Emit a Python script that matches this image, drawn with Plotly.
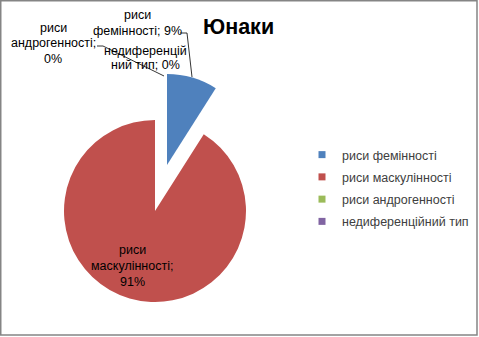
import plotly.graph_objects as go

W, H = 479, 337

# ---- data ----
categories = ["риси фемінності", "риси маскулінності", "риси андрогенності", "недиференційний тип"]
values = [9, 91, 0, 0]
label_lines = [["риси", "фемінності; 9%"],
               ["риси", "маскулінності;", "91%"],
               ["риси", "андрогенності;", "0%"],
               ["недиференцій", "ний тип; 0%"]]
title_text = "Юнаки"
colors = ["#4F81BD", "#C0504D", "#9BBB59", "#8064A2"]

FONT = "Liberation Sans"
TXT = "#000000"

def px(x):
    return x / W

def py(y):
    return 1 - y / H

def dom(cx, cy, r):
    return dict(x=[px(cx - r), px(cx + r)], y=[py(cy + r), py(cy - r)])

R = 91
transparent = "rgba(0,0,0,0)"

fig = go.Figure()
# main pie: all slices except the exploded one
fig.add_trace(go.Pie(
    labels=categories, values=values, sort=False, direction="clockwise",
    rotation=0, textinfo="none", hoverinfo="label+percent", showlegend=False,
    marker=dict(colors=[transparent] + colors[1:], line=dict(width=0)),
    domain=dom(155, 211, R),
))
# exploded slice
fig.add_trace(go.Pie(
    labels=categories, values=values, sort=False, direction="clockwise",
    rotation=0, textinfo="none", hoverinfo="label+percent", showlegend=False,
    marker=dict(colors=[colors[0]] + [transparent] * 3, line=dict(width=0)),
    domain=dom(167, 165, R),
))

# legend entries
for i, (c, col) in enumerate(zip(categories, colors)):
    fig.add_trace(go.Scatter(
        x=[None], y=[None], mode="markers", name=c, legendgroup=str(i),
        marker=dict(symbol="square", size=7, color=col),
    ))

# data labels
label_pos = [(137, [15, 31]), (132, [250, 266, 282]), (53, [28, 43, 59]), (145, [51, 65])]
annotations = []
for lines, (cx, ys) in zip(label_lines, label_pos):
    for t, yy in zip(lines, ys):
        annotations.append(dict(
            x=px(cx), y=py(yy), xref="paper", yref="paper", text=t, showarrow=False,
            xanchor="center", yanchor="middle", font=dict(family=FONT, size=12.5, color=TXT),
        ))
annotations.append(dict(
    x=px(238), y=py(27), xref="paper", yref="paper", text="<b>" + title_text + "</b>",
    showarrow=False, xanchor="center", yanchor="middle",
    font=dict(family=FONT, size=21.5, color="#000000"),
))

shapes = [
    # border
    dict(type="rect", xref="paper", yref="paper", x0=px(0.75), x1=px(477), y0=py(335), y1=py(0.75),
         line=dict(color="#858585", width=1.5), fillcolor="rgba(0,0,0,0)"),
    # leader lines
    dict(type="line", xref="paper", yref="paper", x0=px(180), y0=py(33), x1=px(187), y1=py(33),
         line=dict(color="#000000", width=0.8)),
    dict(type="line", xref="paper", yref="paper", x0=px(187), y0=py(33), x1=px(192), y1=py(77),
         line=dict(color="#000000", width=0.8)),
    dict(type="line", xref="paper", yref="paper", x0=px(97), y0=py(46), x1=px(103), y1=py(46),
         line=dict(color="#000000", width=0.8)),
    dict(type="line", xref="paper", yref="paper", x0=px(103), y0=py(46), x1=px(164), y1=py(76),
         line=dict(color="#000000", width=0.8)),
]

fig.update_layout(
    width=W, height=H, margin=dict(l=0, r=0, t=0, b=0),
    paper_bgcolor="white", plot_bgcolor="white",
    xaxis=dict(visible=False), yaxis=dict(visible=False),
    annotations=annotations, shapes=shapes,
    legend=dict(x=px(302), y=py(140), xanchor="left", yanchor="top",
                font=dict(family=FONT, size=12.5, color="#404040"),
                tracegroupgap=3, bgcolor="rgba(0,0,0,0)"),
    showlegend=True,
)

fig.write_html("out.html")
